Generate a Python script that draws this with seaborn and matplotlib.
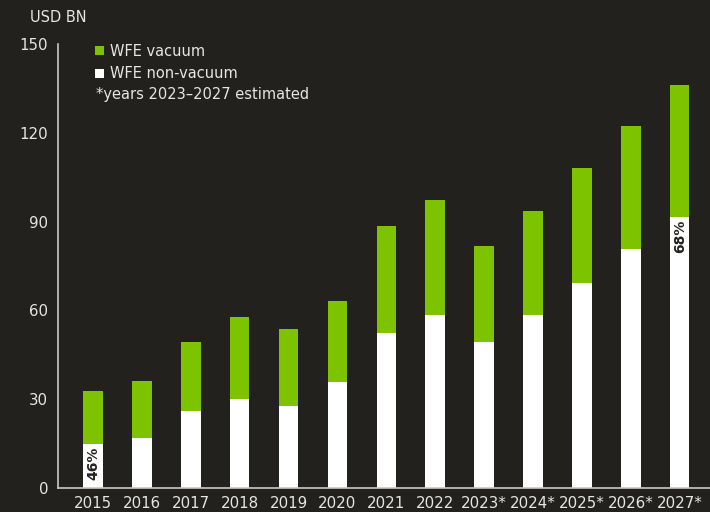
import matplotlib
matplotlib.use("Agg")
import matplotlib.pyplot as plt
from matplotlib.patches import Patch
import seaborn as sns

years = ['2015', '2016', '2017', '2018', '2019', '2020', '2021', '2022',
         '2023*', '2024*', '2025*', '2026*', '2027*']
wfe_total = [32.8, 36.1, 49.3, 57.8, 53.7, 63.2, 88.5, 97.3,
             81.8, 93.6, 108.1, 122.3, 136.1]
wfe_non_vacuum = [14.9, 16.9, 26.0, 30.1, 27.7, 35.8, 52.4, 58.4,
                  49.3, 58.4, 69.3, 80.7, 91.6]
share_labels = {0: '46%', 12: '68%'}

bg = '#22211e'
green = '#7dc300'
fg = '#e6e6e3'

sns.set_style("dark")
plt.rcParams['font.family'] = ['DejaVu Sans']

fig = plt.figure(figsize=(7.1, 5.12), dpi=100, facecolor=bg)
ax = fig.add_axes([58 / 710, 24 / 512, 652 / 710, 444 / 512])
ax.set_facecolor(bg)

sns.barplot(x=years, y=wfe_total, color=green, width=0.4, linewidth=0,
            saturation=1, ax=ax)
sns.barplot(x=years, y=wfe_non_vacuum, color='white', width=0.4, linewidth=0,
            saturation=1, ax=ax)

for i, lab in share_labels.items():
    ax.text(i, wfe_non_vacuum[i] - 0.8, lab, rotation=90, ha='center',
            va='top', fontsize=10, fontweight='bold', color=bg)

ax.set_xlim(-0.716, 12.62)
ax.set_ylim(0, 150)
ax.set_yticks([0, 30, 60, 90, 120, 150])
ax.tick_params(axis='both', length=0, colors=fg, labelsize=10.8)
ax.tick_params(axis='y', pad=7)
ax.tick_params(axis='x', pad=6)
ax.grid(False)
for side in ['top', 'right']:
    ax.spines[side].set_visible(False)
for side in ['left', 'bottom']:
    ax.spines[side].set_visible(True)
    ax.spines[side].set_color('#c8c8c4')
    ax.spines[side].set_linewidth(1.2)

fig.text(30 / 710, 1 - 17 / 512, 'USD BN', color=fg, fontsize=10.5,
         ha='left', va='center')

handles = [Patch(facecolor=green, edgecolor='none', label='WFE vacuum'),
           Patch(facecolor='white', edgecolor='none', label='WFE non-vacuum')]
ax.legend(handles=handles, loc='upper left', frameon=False,
          bbox_to_anchor=(95 / 710, 1 - 44 / 512),
          bbox_transform=fig.transFigure, borderpad=0, borderaxespad=0,
          handlelength=0.6, handleheight=0.6, handletextpad=0.45,
          labelspacing=0.5, fontsize=10.5, labelcolor=fg)
fig.text(96 / 710, 1 - 95 / 512, '*years 2023\u20132027 estimated',
         color=fg, fontsize=10.5, ha='left', va='center')

fig.savefig('out.png', dpi=100, facecolor=bg)
